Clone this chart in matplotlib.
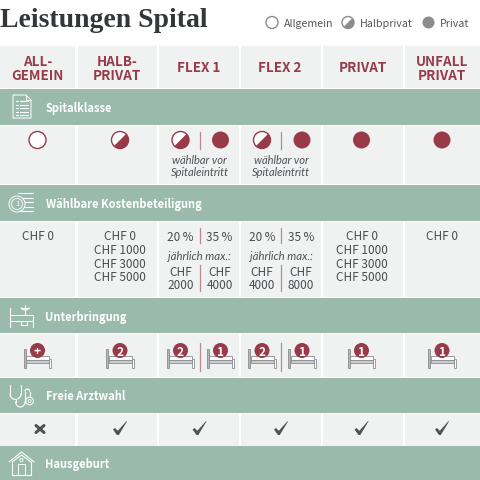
import matplotlib
matplotlib.use("Agg")
import matplotlib.pyplot as plt
from matplotlib.patches import Rectangle, Circle, Wedge, Polygon, Arc

RED = "#983a48"
GREEN = "#9abbac"
CELL = "#f0f1f1"
TXT = "#4a4c50"
GREY = "#8a8c8d"
SANS = ["Noto Sans CJK SC", "DejaVu Sans"]
ITALIC = "Lato"

title = "Leistungen Spital"
legend_labels = ["Allgemein", "Halbprivat", "Privat"]
legend_kinds = ["empty", "half", "full"]

col_edges = [(0, 75), (78, 157), (159, 239), (241, 321), (323, 403), (405, 480)]
col_names = [["ALL-", "GEMEIN"], ["HALB-", "PRIVAT"], ["FLEX 1"], ["FLEX 2"], ["PRIVAT"], ["UNFALL", "PRIVAT"]]

sections = ["Spitalklasse", "Wählbare Kostenbeteiligung", "Unterbringung", "Freie Arztwahl", "Hausgeburt"]
section_rows = [(89, 125), (185, 221), (298, 333), (378, 413), (446, 480)]
cell_rows = [(46, 88), (126, 184), (222, 297), (334, 377), (414, 446)]

klasse = ["empty", "half", ("half", "full"), ("half", "full"), "full", "full"]
waehlbar = ["wählbar vor", "Spitaleintritt"]
kosten = [["CHF 0"], ["CHF 0", "CHF 1000", "CHF 3000", "CHF 5000"], None, None,
          ["CHF 0", "CHF 1000", "CHF 3000", "CHF 5000"], ["CHF 0"]]
flex_pct = ["20\u2009%", "35\u2009%"]
flex_max = {2: ["2000", "4000"], 3: ["4000", "8000"]}
betten = ["+", "2", ("2", "1"), ("2", "1"), "1", "1"]
arztwahl = [False, True, True, True, True, True]

fig = plt.figure(figsize=(4.8, 4.8), dpi=100)
ax = fig.add_axes([0, 0, 1, 1])
ax.set_xlim(0, 480)
ax.set_ylim(480, 0)
ax.axis("off")


def txt(x, y, s, size=8.5, color=TXT, weight="normal", style="normal", ha="center", family=SANS):
    ax.text(x, y, s, fontsize=size, color=color, fontweight=weight, fontstyle=style,
            ha=ha, va="center_baseline", family=family)


def ln(xs, ys, color="white", lw=0.8):
    ax.plot(xs, ys, color=color, lw=lw, solid_capstyle="round")


def dot(x, y, kind, r=8.5, color=RED):
    if kind == "empty":
        ax.add_patch(Circle((x, y), r, fc="white", ec=color, lw=1))
    elif kind == "half":
        ax.add_patch(Circle((x, y), r, fc="white", ec=color, lw=1))
        ax.add_patch(Wedge((x, y), r, -45, 135, fc=color, ec="none"))
    else:
        ax.add_patch(Circle((x, y), r, fc=color, ec="none"))


def bed(x, y, label):
    # x,y = mitte vom icon
    ax.add_patch(Rectangle((x - 14, y - 9.5), 2.4, 19, fc="#b5b7b8", ec=GREY, lw=0.6))
    ax.add_patch(Rectangle((x + 11.5, y + 1), 2.4, 8.5, fc="white", ec=GREY, lw=0.6))
    ax.add_patch(Rectangle((x - 11.5, y - 2.5), 23, 4, fc="white", ec=GREY, lw=0.6))
    ax.add_patch(Rectangle((x - 11.5, y + 1.5), 23, 3, fc="#c9cbcc", ec=GREY, lw=0.6))
    ax.add_patch(Circle((x, y - 7.5), 7.5, fc=RED, ec="none", zorder=3))
    ax.text(x, y - 7.5, label, color="white", fontsize=8.6, fontweight="bold",
            ha="center", va="center_baseline", family=SANS, zorder=4)


def divider(x, y0, y1):
    ax.plot([x, x], [y0, y1], color="#b98a90", lw=0.9)


def check(x, y):
    pts = [(-7, 1.5), (-5, 0), (-2.2, 2.8), (6.6, -7), (7, -6.6), (-1.2, 7), (-3, 7)]
    ax.add_patch(Polygon([(x + a, y + b) for a, b in pts], fc="#505256", ec="none"))


def cross(x, y):
    ln([x - 4, x + 4], [y - 3.5, y + 3.5], color="#505256", lw=2.2)
    ln([x - 4, x + 4], [y + 3.5, y - 3.5], color="#505256", lw=2.2)


def icon_list(y):
    ax.add_patch(Polygon([(13, y - 12), (26, y - 12), (31, y - 7), (31, y + 11), (13, y + 11)],
                         fc="none", ec="white", lw=0.7))
    ln([26, 26, 31], [y - 12, y - 7, y - 7], lw=0.6)
    for k in range(5):
        ln([16, 18], [y - 6 + k * 3.6] * 2)
        ln([20, 28], [y - 6 + k * 3.6] * 2)


def icon_coins(y):
    for k in range(5):
        ln([18, 33], [y - 10 + k * 4.5] * 2)
    ax.add_patch(Circle((17, y + 1), 8, fc=GREEN, ec="white", lw=0.7, zorder=3))
    ax.add_patch(Circle((17, y + 1), 5.5, fc="none", ec="white", lw=0.6, zorder=3))
    ax.text(17, y + 1, "1", color="white", fontsize=5.5, ha="center", va="center", family=SANS, zorder=4)


def icon_bed(y):
    ln([10, 10], [y - 8, y + 11])
    ln([33, 33], [y + 1, y + 11])
    ax.add_patch(Rectangle((10, y - 1), 23, 6, fc="none", ec="white", lw=0.7))
    ln([27, 27, 21, 21], [y + 5, y + 9, y + 9, y + 5])
    ax.add_patch(Arc((25, y - 8), 8, 5, theta1=0, theta2=180, ec="white", lw=0.7))
    ln([21, 29], [y - 8, y - 8])
    ln([25, 25], [y - 10.5, y - 1])


def icon_steth(y):
    ln([10, 10], [y - 11, y - 2])
    ln([21, 21], [y - 11, y - 2])
    ax.add_patch(Arc((15.5, y - 2), 11, 12, theta1=0, theta2=180, ec="white", lw=0.8))
    ln([15.5, 15.5], [y + 4, y + 6])
    ax.add_patch(Arc((20.3, y + 6), 9.6, 11, theta1=0, theta2=180, ec="white", lw=0.8))
    ln([25, 25], [y + 6, y - 4])
    ax.add_patch(Arc((27.3, y - 4), 4.6, 5, theta1=180, theta2=360, ec="white", lw=0.8))
    ln([29.6, 29.6], [y - 4, y + 1.5])
    ax.add_patch(Circle((29.6, y + 5.5), 3.8, fc="none", ec="white", lw=0.7))
    ax.add_patch(Circle((29.6, y + 5.5), 1.5, fc="none", ec="white", lw=0.6))


def icon_house(y):
    ln([9, 21.5, 34], [y - 1, y - 11, y - 1])
    ln([12, 21.5, 31], [y - 1, y - 8, y - 1])
    ln([12, 12, 31, 31], [y - 1, y + 12, y + 12, y - 1])
    ax.add_patch(Rectangle((18, y + 1), 7, 11, fc="none", ec="white", lw=0.7))
    ax.add_patch(Circle((21.5, y - 3), 1.6, fc="none", ec="white", lw=0.6))


section_icons = [icon_list, icon_coins, icon_bed, icon_steth, icon_house]

# titel + legende
ax.text(0, 27, title, fontsize=20, fontweight="bold", color="#33373a", family="Liberation Serif",
        ha="left", va="baseline")
legend_x = [272, 348, 428.5]
for lx, lab, kind in zip(legend_x, legend_labels, legend_kinds):
    dot(lx, 22.5, kind, r=6, color=GREY)
    txt(lx + 11.5, 23, lab, size=7.7, ha="left", color="#55575a")

# zellen
for top, bottom in cell_rows:
    for left, right in col_edges:
        ax.add_patch(Rectangle((left, top), right - left, bottom - top, fc=CELL, ec="none"))

# gruene balken
for (top, bottom), name, icon in zip(section_rows, sections, section_icons):
    ax.add_patch(Rectangle((0, top), 480, bottom - top, fc=GREEN, ec="none"))
    mid = (top + bottom) / 2
    icon(mid)
    txt(45.5, mid, name, size=8.0, color="white", weight="bold", ha="left")

centers = [37.5, 120, 199.5, 281, 361.5, 442]
head_x = [37.5, 117, 199, 280, 363, 442]

for c, name in zip(head_x, col_names):
    if len(name) == 2:
        txt(c, 60, name[0], size=9.7, color=RED, weight="bold")
        txt(c, 75, name[1], size=9.7, color=RED, weight="bold")
    else:
        txt(c, 67, name[0], size=9.7, color=RED, weight="bold")

# spitalklasse
for i, (c, k) in enumerate(zip(centers, klasse)):
    if isinstance(k, tuple):
        dot(c - 19, 140, k[0])
        dot(c + 21, 140, k[1])
        divider(c, 132, 149)
        txt(c, 160, waehlbar[0], size=8, style="italic", color="#505256", family=ITALIC)
        txt(c, 172, waehlbar[1], size=8, style="italic", color="#505256", family=ITALIC)
    else:
        dot(c, 140, k)

# kosten
for i, (c, rows) in enumerate(zip(centers, kosten)):
    if rows is not None:
        for k, r in enumerate(rows):
            txt(c, 235.5 + k * 13.5, r)
    else:
        txt(c - 19, 236, flex_pct[0])
        txt(c + 20, 236, flex_pct[1])
        divider(c, 228, 243)
        txt(c, 255.5, "jährlich max.:", size=8.2, style="italic", color="#505256", family=ITALIC)
        a, b = flex_max[i]
        txt(c - 19, 271, "CHF")
        txt(c - 19, 284, a)
        txt(c + 20, 271, "CHF")
        txt(c + 20, 284, b)
        divider(c, 265, 291)

# unterbringung
for c, b in zip(centers, betten):
    if isinstance(b, tuple):
        divider(c, 343, 371)
        bed(c - 19, 358, b[0])
        bed(c + 21, 358, b[1])
    else:
        bed(c, 358, b)

# arztwahl
for c, ok in zip(centers, arztwahl):
    if ok:
        check(c, 428)
    else:
        cross(c + 2.5, 429)

fig.savefig("out.png", dpi=100, facecolor="white")
